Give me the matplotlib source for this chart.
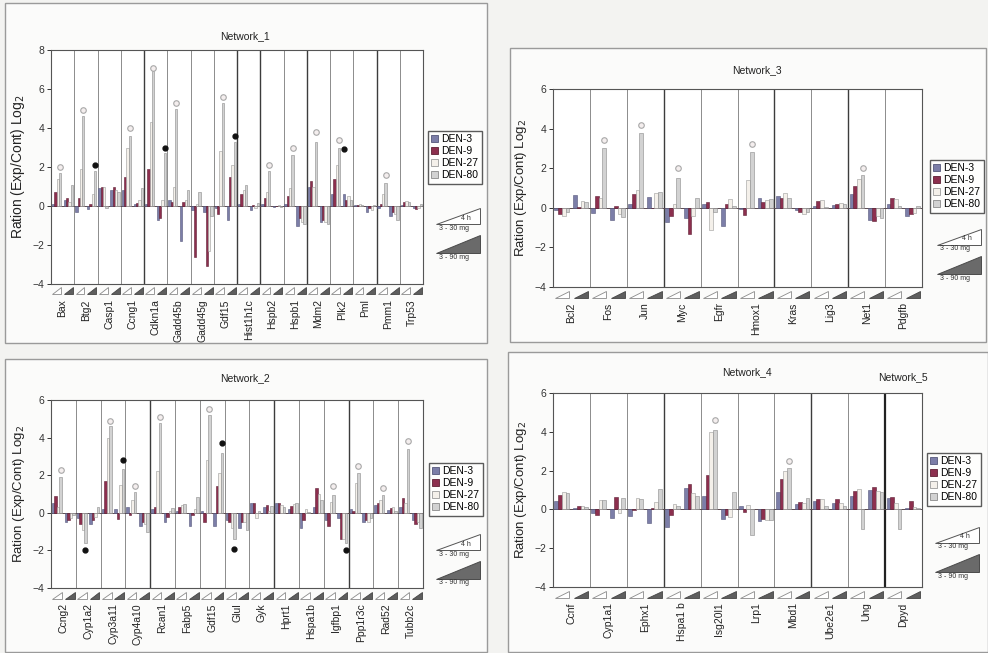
import numpy as np
import matplotlib
matplotlib.use('Agg')
import matplotlib.pyplot as plt
from matplotlib.patches import Rectangle, Polygon, Patch

plt.rcParams['font.family'] = ['Liberation Sans', 'DejaVu Sans']

W, H = 988, 653

series = ['DEN-3', 'DEN-9', 'DEN-27', 'DEN-80']
colors = ['#7c7ea8', '#8c2f4e', '#f4f0ea', '#d2d2d2']
edges = ['#55577a', '#5e1f33', '#9a9a9a', '#8a8a8a']

# ---- Network_1 ----
net1_genes = ['Bax', 'Btg2', 'Casp1', 'Ccng1', 'Cdkn1a', 'Gadd45b', 'Gadd45g', 'Gdf15',
              'Hist1h1c', 'Hspb2', 'Hspb1', 'Mdm2', 'Plk2', 'Pml', 'Pmm1', 'Trp53']
# light-triangle group (DEN-3, DEN-9, DEN-27, DEN-80)
net1_low = [[0.1, 0.7, 1.4, 1.7], [-0.3, 0.4, 1.9, 4.6], [0.9, 1.0, 1.0, -0.1], [0.8, 1.5, 3.0, 3.6],
            [0.1, 1.9, 4.3, 6.9], [0.3, 0.2, 1.0, 5.0], [-0.2, -2.6, 0.1, 0.7], [-0.1, -0.4, 2.8, 5.3],
            [0.1, 0.6, 0.8, 1.1], [0.1, 0.4, 0.7, 1.8], [0.1, 0.5, 0.9, 2.6], [1.0, 1.3, 1.0, 3.3],
            [0.6, 1.4, 2.1, 3.0], [0.05, 0.05, 0.1, 0.05], [-0.1, 0.1, 0.6, 1.2], [0.05, 0.2, 0.25, 0.2]]
# dark-triangle group
net1_high = [[0.3, 0.4, 0.2, 1.1], [-0.15, 0.1, 0.6, 1.8], [0.8, 1.0, 0.8, 0.7], [0.1, 0.15, 0.3, 0.9],
             [-0.7, -0.6, 0.3, 2.7], [-1.8, 0.2, 0.3, 0.8], [-0.3, -3.1, -2.3, -0.5], [-0.7, 1.5, 2.1, 3.3],
             [-0.2, 0.05, -0.1, 0.15], [-0.05, 0.0, 0.05, -0.05], [-1.0, -0.6, -0.8, -0.9], [-0.8, -0.7, -0.8, -0.9],
             [0.6, 0.3, 0.5, 0.3], [-0.3, -0.1, -0.2, 0.05], [-0.5, -0.3, -0.4, -0.7], [-0.1, -0.15, -0.1, 0.1]]
net1_open = [(0, 3, 2.0), (1, 3, 4.9), (3, 3, 4.0), (4, 3, 7.1), (5, 3, 5.3), (7, 3, 5.6),
             (9, 3, 2.1), (10, 3, 3.0), (11, 3, 3.8), (12, 3, 3.4), (14, 3, 1.6)]
net1_dot = [(1, 7, 2.1), (4, 7, 3.0), (7, 7, 3.6), (12, 4, 2.9)]

# ---- Network_2 ----
net2_genes = ['Ccng2', 'Cyp1a2', 'Cyp3a11', 'Cyp4a10', 'Rcan1', 'Fabp5', 'Gdf15', 'Glul',
              'Gyk', 'Hprt1', 'Hspa1b', 'Igfbp1', 'Ppp1r3c', 'Rad52', 'Tubb2c']
net2_low = [[0.5, 0.9, 0.3, 1.9], [-0.3, -0.6, -0.9, -1.6], [0.2, 1.7, 4.0, 4.6], [0.3, -0.1, 0.7, 1.1],
            [0.2, 0.3, 2.2, 4.8], [0.1, 0.3, 0.4, 0.45], [0.1, -0.5, 2.8, 5.2], [-0.4, -0.5, -0.8, -1.4],
            [0.5, 0.5, -0.25, 0.1], [0.5, 0.5, 0.4, 0.3], [-0.8, -0.4, 0.2, 0.05], [-0.4, -0.7, 0.6, 0.95],
            [0.2, 0.1, 1.6, 2.1], [0.4, 0.5, 0.7, 0.95], [0.3, 0.8, 0.5, 3.4]]
net2_high = [[-0.5, -0.4, -0.3, -0.1], [-0.6, -0.4, -0.2, 0.3], [0.2, -0.35, 1.5, 2.35], [-0.7, -0.5, -0.6, -1.0],
             [-0.5, -0.2, 0.1, 0.25], [-0.7, -0.1, 0.2, 0.85], [-0.7, 1.4, 2.1, 3.2], [-0.8, -0.5, -0.5, -0.9],
             [0.3, 0.4, 0.1, 0.35], [0.2, 0.35, 0.45, 0.5], [0.3, 1.3, 1.0, 0.7], [-0.3, -1.4, -1.4, -1.6],
             [-0.5, -0.4, -0.5, -0.3], [0.15, 0.25, 0.3, 0.1], [-0.4, -0.6, -0.5, -0.8]]
net2_open = [(0, 3, 2.3), (2, 3, 4.9), (3, 3, 1.4), (4, 3, 5.1), (6, 3, 5.5), (11, 3, 1.4),
             (12, 3, 2.5), (13, 3, 1.3), (14, 3, 3.8)]
net2_dot = [(1, 3, -2.0), (2, 7, 2.8), (6, 7, 3.7), (7, 3, -1.9), (11, 7, -2.0)]

# ---- Network_3 ----
net3_genes = ['Bcl2', 'Fos', 'Jun', 'Myc', 'Egfr', 'Hmox1', 'Kras', 'Lig3', 'Net1', 'Pdgfb']
net3_low = [[-0.1, -0.3, -0.4, -0.2], [-0.25, 0.6, 0.5, 3.0], [0.2, 0.7, 0.9, 3.8], [-0.7, -0.4, 0.2, 1.5],
            [0.2, 0.3, -1.1, -0.2], [-0.05, -0.35, 1.4, 2.8], [0.6, 0.5, 0.75, 0.5], [0.1, 0.35, 0.4, 0.05],
            [0.7, 1.1, 1.45, 1.65], [0.2, 0.5, 0.45, 0.1]]
net3_high = [[0.65, 0.05, 0.35, 0.3], [-0.6, 0.1, -0.3, -0.45], [0.55, 0.0, 0.75, 0.8], [-0.5, -1.3, -0.4, 0.5],
             [-0.9, 0.2, 0.45, 0.1], [0.5, 0.3, 0.4, 0.45], [-0.1, -0.2, -0.3, -0.2], [0.15, 0.2, 0.25, 0.2],
             [-0.6, -0.65, -0.4, -0.5], [-0.4, -0.3, -0.25, 0.1]]
net3_open = [(1, 3, 3.4), (2, 3, 4.2), (3, 3, 2.0), (5, 3, 3.2), (8, 3, 2.0)]
net3_dot = []

# ---- Network_4 / Network_5 ----
net4_genes = ['Ccnf', 'Cyp1a1', 'Ephx1', 'Hspa1 b', 'Isg20l1', 'Lrp1', 'Mbd1', 'Ube2e1', 'Ung', 'Dpyd']
net4_low = [[0.45, 0.75, 0.9, 0.85], [-0.2, -0.3, 0.5, 0.5], [-0.35, -0.05, 0.6, 0.55], [-0.9, -0.3, 0.3, 0.15],
            [0.7, 1.75, 4.0, 4.1], [0.2, -0.15, 0.25, -1.3], [0.9, 1.55, 2.0, 2.15], [0.45, 0.55, 0.55, 0.15],
            [0.7, 0.95, 1.05, -1.0], [0.6, 0.65, 0.35, -1.0]]
net4_high = [[0.05, 0.15, 0.15, 0.1], [-0.45, 0.65, -0.2, 0.6], [-0.7, 0.05, 0.4, 1.05], [1.1, 1.3, 0.85, 0.7],
             [-0.5, -0.3, -0.4, 0.9], [-0.6, -0.5, -0.55, -0.55], [0.3, 0.4, 0.35, 0.6], [0.35, 0.55, 0.35, 0.15],
             [1.0, 1.15, 0.95, 0.9], [0.05, 0.45, 0.1, 0.05]]
net4_open = [(4, 3, 4.6), (6, 3, 2.5)]
net4_dot = []

offsets = [0.09, 0.19, 0.29, 0.39, 0.60, 0.70, 0.80, 0.90]
bw = 0.1


def px_rect(x0, y0, x1, y1):
    # pixel box (top-left origin) -> figure fraction [left, bottom, width, height]
    return [x0 / W, 1 - y1 / H, (x1 - x0) / W, (y1 - y0) / H]


fig = plt.figure(figsize=(W / 100, H / 100), dpi=100)
fig.patch.set_facecolor('#f3f3f1')

# panel frames
for (x0, y0, x1, y1) in [(5, 3, 487, 343), (5, 359, 487, 652), (510, 48, 986, 342), (508, 352, 988, 652)]:
    fig.patches.append(Rectangle((x0 / W, 1 - y1 / H), (x1 - x0) / W, (y1 - y0) / H,
                                 transform=fig.transFigure, facecolor='#fbfbfa',
                                 edgecolor='#9a9a9a', linewidth=1.0, zorder=-10))


def draw_panel(box, genes, low, high, opens, dots, ymax, darklines, lab_size):
    ax = fig.add_axes(px_rect(*box))
    ax.set_facecolor('white')
    hpx = box[3] - box[1]
    n = len(genes)
    x = np.arange(n)
    low = np.array(low)
    high = np.array(high)
    for s in range(4):
        ax.bar(x + offsets[s], low[:, s], width=bw, color=colors[s], edgecolor=edges[s],
               linewidth=0.4, zorder=3)
        ax.bar(x + offsets[s + 4], high[:, s], width=bw, color=colors[s], edgecolor=edges[s],
               linewidth=0.4, zorder=3)
    for g, slot, y in opens:
        ax.plot(g + offsets[slot], y, 'o', mfc='#f4eeee', mec='#a8a8a8', ms=4, mew=0.8, zorder=4)
    for g, slot, y in dots:
        ax.plot(g + offsets[slot], y, 'o', color='#111111', ms=3.5, zorder=4)
    for k in range(1, n):
        if k in darklines:
            ax.axvline(k, color='#3c3c3c', lw=1.0, zorder=1)
        else:
            ax.axvline(k, color='#8c8c8c', lw=0.7, zorder=1)
    ax.axhline(0, color='#5a4a50', lw=0.7, zorder=2)
    ax.set_xlim(0, n)
    ax.set_ylim(-4, ymax)
    ax.set_yticks(np.arange(-4, ymax + 1, 2))
    ax.tick_params(axis='y', labelsize=7.5, length=3, width=0.7, pad=2, colors='#333333')
    ax.set_xticks(x + 0.5)
    ax.set_xticklabels(genes, rotation=90, fontsize=7.5, va='top', color='#222222')
    ax.tick_params(axis='x', length=0, pad=11)
    for sp in ax.spines.values():
        sp.set_color('#555555')
        sp.set_linewidth(0.8)
    ax.set_ylabel('Ration (Exp/Cont) Log$_2$', fontsize=lab_size, color='#222222', labelpad=4)
    # dose triangles under every gene
    tr = ax.get_xaxis_transform()
    yb, yt = -10.5 / hpx, -3.5 / hpx
    for i in range(n):
        ax.add_patch(Polygon([(i + 0.06, yb), (i + 0.44, yb), (i + 0.44, yt)], closed=True,
                             transform=tr, clip_on=False, facecolor='white',
                             edgecolor='#8a8a8a', linewidth=0.6))
        ax.add_patch(Polygon([(i + 0.56, yb), (i + 0.95, yb), (i + 0.95, yt)], closed=True,
                             transform=tr, clip_on=False, facecolor='#5e5e5e',
                             edgecolor='#444444', linewidth=0.6))
    return ax


def draw_key(ax, lx, ly, tx, ty):
    # legend box (pixels) and the two dose triangles below it
    handles = [Patch(facecolor=colors[s], edgecolor=edges[s], linewidth=0.6) for s in range(4)]
    ax.legend(handles, series, loc='upper left', bbox_to_anchor=(lx / W, 1 - ly / H),
              bbox_transform=fig.transFigure, fontsize=7.5, frameon=True, fancybox=False,
              edgecolor='#333333', handlelength=0.7, handleheight=0.7, handletextpad=0.3,
              borderpad=0.3, labelspacing=0.2, borderaxespad=0)
    def f(px, py):
        return (px / W, 1 - py / H)
    fig.patches.append(Polygon([f(tx, ty + 16), f(tx + 44, ty + 16), f(tx + 44, ty)], closed=True,
                               transform=fig.transFigure, facecolor='white',
                               edgecolor='#555555', linewidth=0.7))
    fig.text(*f(tx + 30, ty + 10), '4 h', fontsize=5, ha='center', va='center', color='#333333')
    fig.text(*f(tx + 3, ty + 20), '3 - 30 mg', fontsize=5, ha='left', va='center', color='#333333')
    fig.patches.append(Polygon([f(tx, ty + 45), f(tx + 44, ty + 45), f(tx + 44, ty + 27)], closed=True,
                               transform=fig.transFigure, facecolor='#6a6a6a',
                               edgecolor='#4a4a4a', linewidth=0.7))
    fig.text(*f(tx + 3, ty + 49), '3 - 90 mg', fontsize=5, ha='left', va='center', color='#333333')


ax1 = draw_panel((51, 50, 423, 284), net1_genes, net1_low, net1_high, net1_open, net1_dot,
                 8, [4, 8, 9, 11, 14], 10)
ax2 = draw_panel((51, 400, 423, 588), net2_genes, net2_low, net2_high, net2_open, net2_dot,
                 6, [4, 9, 12], 9.5)
ax3 = draw_panel((553, 89, 922, 287), net3_genes, net3_low, net3_high, net3_open, net3_dot,
                 6, [3, 6, 8], 9.5)
ax4 = draw_panel((553, 393, 922, 587), net4_genes, net4_low, net4_high, net4_open, net4_dot,
                 6, [3, 7], 9.5)
ax4.axvline(9, color='#222222', lw=1.6, zorder=1)

fig.text(245 / W, 1 - 36 / H, 'Network_1', fontsize=7.5, ha='center', va='center', color='#222222')
fig.text(245 / W, 1 - 378 / H, 'Network_2', fontsize=7.5, ha='center', va='center', color='#222222')
fig.text(757 / W, 1 - 70 / H, 'Network_3', fontsize=7.5, ha='center', va='center', color='#222222')
fig.text(747 / W, 1 - 372 / H, 'Network_4', fontsize=7.5, ha='center', va='center', color='#222222')
fig.text(903 / W, 1 - 377 / H, 'Network_5', fontsize=7.5, ha='center', va='center', color='#222222')

draw_key(ax1, 428, 131, 436, 208)
draw_key(ax2, 429, 463, 436, 534)
draw_key(ax3, 930, 160, 937, 229)
draw_key(ax4, 927, 453, 935, 527)

fig.savefig('out.png', dpi=100, facecolor=fig.get_facecolor())
